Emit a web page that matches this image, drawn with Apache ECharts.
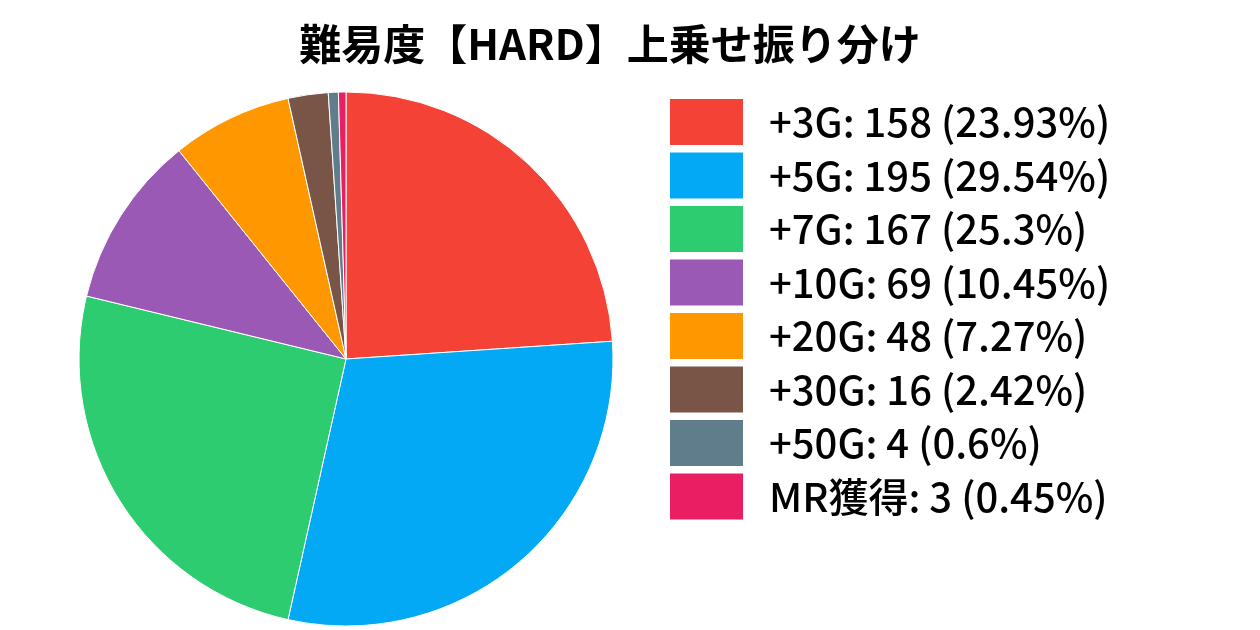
<!DOCTYPE html>
<html><head><meta charset="utf-8">
<script src="https://cdn.jsdelivr.net/npm/echarts@6/dist/echarts.min.js"></script>
<style>html,body{margin:0;padding:0;background:#fff}#c{width:1260px;height:630px}</style>
</head><body><div id="c"></div>
<script>
const categories = ['+3G','+5G','+7G','+10G','+20G','+30G','+50G','MR獲得'];
const values = [158,195,167,69,48,16,4,3];
const percents = ['23.93','29.54','25.3','10.45','7.27','2.42','0.6','0.45'];
const colors = ['#F44336','#03A9F4','#2ECC71','#9B59B6','#FF9800','#795548','#607D8B','#E91E63'];
const chart = echarts.init(document.getElementById('c'));
chart.setOption({
  animation:false,
  color: colors,
  title:{text:'難易度【HARD】上乗せ振り分け',left:605,textAlign:'center',top:18,
    textStyle:{fontFamily:'Noto Sans CJK JP',fontWeight:'bold',fontSize:42,color:'#000'}},
  legend:{orient:'vertical',left:668,top:97,padding:0,itemWidth:75,itemHeight:48,itemGap:3.5,
    icon:'rect',
    formatter:function(n){const i=categories.indexOf(n);return n+': '+values[i]+' ('+percents[i]+'%)';},
    textStyle:{fontFamily:'Noto Sans CJK JP',fontWeight:500,fontSize:40,lineHeight:48,color:'#000',padding:[0,0,0,20]}},
  series:[{type:'pie',center:[346,359],radius:[0,267],startAngle:90,clockwise:true,
    label:{show:false},labelLine:{show:false},
    itemStyle:{borderColor:'#fff',borderWidth:1},
    data:categories.map((c,i)=>({name:c,value:values[i]}))}]
});
</script></body></html>
